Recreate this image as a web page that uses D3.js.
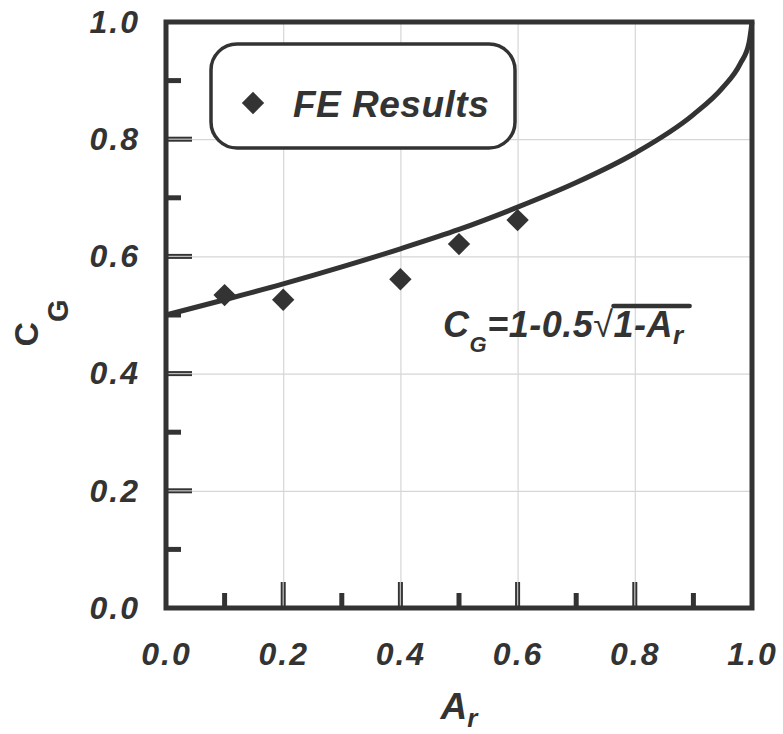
<!DOCTYPE html>
<html>
<head>
<meta charset="utf-8">
<script src="https://cdn.jsdelivr.net/npm/d3@7"></script>
<style>
  body { margin: 0; background: #fff; }
  text { font-family: "Liberation Sans", Arial, sans-serif; font-weight: bold; font-style: italic; fill: #333; }
</style>
</head>
<body>
<svg width="783" height="734"></svg>
<script>
// FE results
var feAr = [0.1, 0.2, 0.4, 0.5, 0.6];
var feCg = [0.534, 0.526, 0.561, 0.621, 0.662];

// curve C_G = 1 - 0.5*sqrt(1 - A_r)
var curveAr = [0.0, 0.1, 0.2, 0.3, 0.4, 0.5, 0.6, 0.7, 0.8, 0.9, 0.95, 0.98, 0.995, 1.0];
var curveCg = [0.5, 0.526, 0.553, 0.582, 0.613, 0.646, 0.684, 0.726, 0.776, 0.842, 0.888, 0.929, 0.965, 1.0];

var majorTicks = [0.0, 0.2, 0.4, 0.6, 0.8, 1.0];
var minorTicks = [0.1, 0.3, 0.5, 0.7, 0.9];
var gridTicks = [0.2, 0.4, 0.6, 0.8];

var ink = '#333';
var svg = d3.select('svg');

// note: "top" is taken by window.top, so use other names
var padL = 166, padT = 22, w = 586, h = 586;

var xScale = d3.scaleLinear().domain([0, 1]).range([0, w]);
var yScale = d3.scaleLinear().domain([0, 1]).range([h, 0]);

var chartG = svg.append('g').attr('transform', 'translate(' + padL + ',' + padT + ')');

// grid lines
chartG.append('g')
    .attr('transform', 'translate(0,' + h + ')')
    .call(d3.axisBottom(xScale).tickValues(gridTicks).tickSize(-h).tickFormat(''))
    .call(function(g) {
        g.select('.domain').remove();
        g.selectAll('line').attr('stroke', '#d6d6d6').attr('stroke-width', 1.2);
    });
chartG.append('g')
    .call(d3.axisLeft(yScale).tickValues(gridTicks).tickSize(-w).tickFormat(''))
    .call(function(g) {
        g.select('.domain').remove();
        g.selectAll('line').attr('stroke', '#d6d6d6').attr('stroke-width', 1.2);
    });

// inside ticks, minor are short and solid, major are taller and hollow looking
function drawTicks(vals, len, isMajor) {
    vals.forEach(function(v) {
        var segs = [
            [xScale(v), h, xScale(v), h - len],
            [0, yScale(v), len, yScale(v)]
        ];
        segs.forEach(function(s) {
            chartG.append('line')
                .attr('x1', s[0]).attr('y1', s[1]).attr('x2', s[2]).attr('y2', s[3])
                .attr('stroke', ink).attr('stroke-width', 5);
            if (isMajor) {
                chartG.append('line')
                    .attr('x1', s[0]).attr('y1', s[1]).attr('x2', s[2]).attr('y2', s[3])
                    .attr('stroke', '#bbb').attr('stroke-width', 1.3);
            }
        });
    });
}
drawTicks(minorTicks, 15, false);
drawTicks(gridTicks, 26, true);

// tick labels
var fmt = d3.format('.1f');
function styleLabels(g) {
    g.select('.domain').remove();
    g.selectAll('text').attr('font-size', 32).attr('fill', ink)
        .style('font-family', '"Liberation Sans", Arial, sans-serif')
        .style('letter-spacing', '2px');
}
chartG.append('g')
    .attr('transform', 'translate(0,' + h + ')')
    .call(d3.axisBottom(xScale).tickValues(majorTicks).tickSize(0).tickPadding(34).tickFormat(fmt))
    .call(styleLabels);
chartG.append('g')
    .call(d3.axisLeft(yScale).tickValues(majorTicks).tickSize(0).tickPadding(26).tickFormat(fmt))
    .call(styleLabels);

// frame
chartG.append('rect')
    .attr('x', 0).attr('y', 0).attr('width', w).attr('height', h)
    .attr('fill', 'none').attr('stroke', ink).attr('stroke-width', 5);

// curve
var line = d3.line()
    .x(function(d) { return xScale(d[0]); })
    .y(function(d) { return yScale(d[1]); })
    .curve(d3.curveMonotoneX);
chartG.append('path')
    .datum(curveAr.map(function(a, i) { return [a, curveCg[i]]; }))
    .attr('d', line)
    .attr('fill', 'none').attr('stroke', ink).attr('stroke-width', 5);

// FE points
var diamond = d3.symbol().type(d3.symbolSquare).size(250);
chartG.selectAll('.dot')
    .data(feAr.map(function(a, i) { return [a, feCg[i]]; }))
    .enter().append('path')
    .attr('class', 'dot')
    .attr('d', diamond)
    .attr('fill', ink)
    .attr('transform', function(d) {
        return 'translate(' + xScale(d[0]) + ',' + yScale(d[1]) + ') rotate(45)';
    });

// legend
var legG = svg.append('g');
legG.append('rect')
    .attr('x', 211).attr('y', 44).attr('width', 304).attr('height', 104)
    .attr('rx', 26).attr('ry', 26)
    .attr('fill', '#fff').attr('stroke', ink).attr('stroke-width', 3.5);
legG.append('path')
    .attr('d', diamond)
    .attr('fill', ink)
    .attr('transform', 'translate(253,103) rotate(45)');
legG.append('text')
    .attr('x', 293).attr('y', 117)
    .attr('font-size', 37)
    .style('letter-spacing', '0.5px')
    .text('FE Results');

// equation label
var eqX = 443, eqY = 337;
var eq = svg.append('text').attr('x', eqX).attr('y', eqY).attr('font-size', 36)
    .style('letter-spacing', '0.5px');
eq.append('tspan').text('C');
eq.append('tspan').attr('font-size', 22).attr('dy', 15).text('G');
eq.append('tspan').attr('dy', -15).text('=1-0.5');
eq.append('tspan').style('font-style', 'normal').style('font-weight', 'normal').text('\u221A');
var rootW = eq.node().getComputedTextLength();
var rad = svg.append('text').attr('x', eqX + rootW).attr('y', eqY).attr('font-size', 36)
    .style('letter-spacing', '0.5px');
rad.append('tspan').text('1-A');
rad.append('tspan').attr('font-size', 26).attr('dy', 7).text('r');
var radW = rad.node().getComputedTextLength();
svg.append('line')
    .attr('x1', eqX + rootW).attr('x2', eqX + rootW + radW + 6)
    .attr('y1', 306).attr('y2', 306)
    .attr('stroke', ink).attr('stroke-width', 4.5).attr('stroke-linecap', 'round');

// axis titles
var xt = svg.append('text')
    .attr('x', padL + w / 2).attr('y', 719)
    .attr('text-anchor', 'middle')
    .attr('font-size', 37);
xt.append('tspan').text('A');
xt.append('tspan').attr('font-size', 26).attr('dy', 8).text('r');

var yt = svg.append('text')
    .attr('transform', 'translate(38,' + (padT + h / 2 + 8) + ') rotate(-90)')
    .attr('text-anchor', 'middle')
    .attr('font-size', 34)
    .style('font-style', 'normal');
yt.append('tspan').text('C');
yt.append('tspan').attr('font-size', 29).attr('dy', 30).text('G');
</script>
</body>
</html>
